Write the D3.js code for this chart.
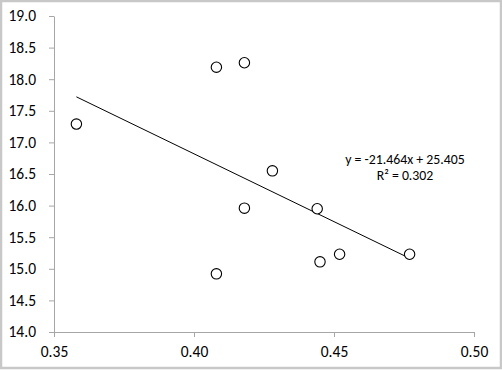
<!DOCTYPE html>
<html>
<head>
<meta charset="utf-8">
<script src="https://cdn.jsdelivr.net/npm/d3@7"></script>
<style>
  html, body { margin: 0; padding: 0; background: #fff; }
  svg { display: block; font-family: Carlito, Lato, "Open Sans", sans-serif; }
</style>
</head>
<body>
<div id="chart"></div>
<script>
// Data
const xValues = [0.358, 0.408, 0.418, 0.428, 0.418, 0.408, 0.444, 0.445, 0.452, 0.477];
const yValues = [17.29, 18.19, 18.26, 16.55, 15.96, 14.92, 15.95, 15.11, 15.23, 15.23];
const xTicks = [0.35, 0.40, 0.45, 0.50];
const yTicks = [14.0, 14.5, 15.0, 15.5, 16.0, 16.5, 17.0, 17.5, 18.0, 18.5, 19.0];
const trendSlope = -21.464;
const trendIntercept = 25.405;
const trendText = ["y = -21.464x + 25.405", "R\u00b2 = 0.302"];

const width = 502;
const height = 370;
const margin = { top: 16, right: 28, bottom: 38, left: 54 };

const svg = d3.select("#chart")
  .append("svg")
  .attr("width", width)
  .attr("height", height);

// Outer frame
svg.append("rect")
  .attr("x", 1).attr("y", 1)
  .attr("width", width - 2).attr("height", height - 3)
  .attr("fill", "#fff")
  .attr("stroke", "#c8c8c8")
  .attr("stroke-width", 2.5);

const x = d3.scaleLinear().domain([0.35, 0.50]).range([margin.left, width - margin.right]);
const y = d3.scaleLinear().domain([14, 19]).range([height - margin.bottom, margin.top]);

// Axes
const xAxis = svg.append("g")
  .attr("transform", "translate(0," + y(14) + ")")
  .call(d3.axisBottom(x).tickValues(xTicks).tickFormat(d3.format(".2f")).tickSizeInner(5).tickSizeOuter(0));

const yAxis = svg.append("g")
  .attr("transform", "translate(" + x(0.35) + ",0)")
  .call(d3.axisLeft(y).tickValues(yTicks).tickFormat(d3.format(".1f")).tickSizeInner(5).tickSizeOuter(0));

[xAxis, yAxis].forEach(g => {
  g.select(".domain").attr("stroke", "#a6a6a6");
  g.selectAll(".tick line").attr("stroke", "#a6a6a6");
  g.selectAll(".tick text")
    .attr("fill", "#000")
    .style("font-size", "15.5px")
    .style("font-family", "Carlito, Lato, 'Open Sans', sans-serif");
});
xAxis.selectAll(".tick text").attr("y", 12).attr("dy", "0.85em");
yAxis.selectAll(".tick text").attr("x", -18);

// Trend line across the data range
const [xMin, xMax] = d3.extent(xValues);
svg.append("line")
  .attr("x1", x(xMin)).attr("y1", y(trendSlope * xMin + trendIntercept))
  .attr("x2", x(xMax)).attr("y2", y(trendSlope * xMax + trendIntercept))
  .attr("stroke", "#000")
  .attr("stroke-width", 1);

// Points
svg.append("g")
  .selectAll("circle")
  .data(d3.range(xValues.length))
  .join("circle")
  .attr("cx", i => x(xValues[i]))
  .attr("cy", i => y(yValues[i]))
  .attr("r", 5.2)
  .attr("fill", "#fff")
  .attr("stroke", "#000")
  .attr("stroke-width", 1.1);

// Equation label
svg.append("text")
  .attr("x", 405)
  .attr("y", 164)
  .attr("text-anchor", "middle")
  .style("font-size", "13.8px")
  .selectAll("tspan")
  .data(trendText)
  .join("tspan")
  .attr("x", 405)
  .attr("dy", (d, i) => i ? 16 : 0)
  .text(d => d);
</script>
</body>
</html>
